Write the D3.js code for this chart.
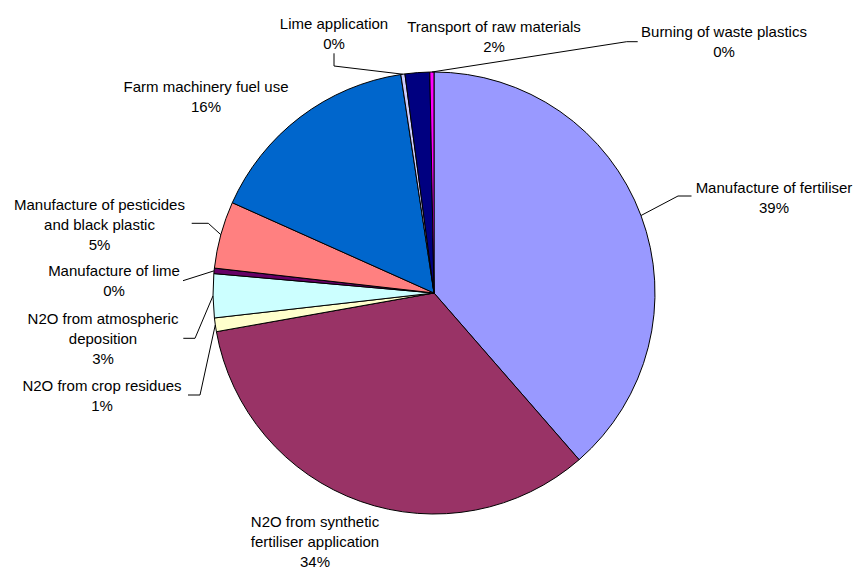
<!DOCTYPE html>
<html>
<head>
<meta charset="utf-8">
<script src="https://cdn.jsdelivr.net/npm/d3@7"></script>
<style>
  body { margin: 0; background: #fff; }
  text { font-family: "Liberation Sans", Arial, sans-serif; font-size: 15px; fill: #000; }
</style>
</head>
<body>
<svg id="chart" width="854" height="569"></svg>
<script>
// Sources of greenhouse gas emissions, share of total (%)
const categories = [
  "Manufacture of fertiliser",
  "N2O from synthetic fertiliser application",
  "N2O from crop residues",
  "N2O from atmospheric deposition",
  "Manufacture of lime",
  "Manufacture of pesticides and black plastic",
  "Farm machinery fuel use",
  "Lime application",
  "Transport of raw materials",
  "Burning of waste plastics"
];
const values = [38.6, 33.6, 1.0, 3.2, 0.4, 4.9, 15.9, 0.3, 1.8, 0.3];
const colors = ["#9999FF", "#993366", "#FFFFCC", "#CCFFFF", "#660066",
                "#FF8080", "#0066CC", "#CCCCFF", "#000080", "#FF00FF"];

// Category names broken into lines as they appear beside the pie
const labelLines = [
  ["Manufacture of fertiliser"],
  ["N2O from synthetic", "fertiliser application"],
  ["N2O from crop residues"],
  ["N2O from atmospheric", "deposition"],
  ["Manufacture of lime"],
  ["Manufacture of pesticides", "and black plastic"],
  ["Farm machinery fuel use"],
  ["Lime application"],
  ["Transport of raw materials"],
  ["Burning of waste plastics"]
];

// Label placement: text centre x, first baseline y, and leader-line bend points
const labelLayout = [
  { x: 774, y: 193,   leader: [[678, 196], [691.5, 196]] },
  { x: 315, y: 527,   leader: null },
  { x: 102, y: 391,   leader: [[200, 395], [188, 395]] },
  { x: 103, y: 323.5, leader: [[195, 338.3], [183.3, 338.3]] },
  { x: 114, y: 276,   leader: [[183, 280.7]] },
  { x: 99.5, y: 209.5, leader: [[208.3, 223.3], [191.7, 223.3]] },
  { x: 206, y: 92,    leader: null },
  { x: 334, y: 28.5,  leader: [[334, 66], [334, 53.3]] },
  { x: 494, y: 31.5,  leader: null },
  { x: 724, y: 37,    leader: [[626.7, 41.7], [637.7, 41.7]] }
];

const cx = 434, cy = 293, R = 221;
const lineGap = 20;

const svg = d3.select("#chart");
const total = d3.sum(values);
const pct = v => Math.round(v / total * 100) + "%";

const pie = d3.pie().sort(null).value(d => d).startAngle(0).endAngle(2 * Math.PI);
const arcs = pie(values);
const arc = d3.arc().innerRadius(0).outerRadius(R);
const rim = d3.arc().innerRadius(R).outerRadius(R);

const g = svg.append("g").attr("transform", `translate(${cx},${cy})`);

g.selectAll("path.slice")
  .data(arcs)
  .join("path")
  .attr("class", "slice")
  .attr("d", arc)
  .attr("fill", (d, i) => colors[i])
  .attr("stroke", "#000")
  .attr("stroke-width", 1)
  .attr("stroke-linejoin", "round");

// Leader lines from the slice's outer edge to its label
const line = d3.line();
arcs.forEach((a, i) => {
  const lay = labelLayout[i];
  if (!lay.leader) return;
  const [px, py] = rim.centroid(a);
  const pts = [[cx + px, cy + py]].concat(lay.leader);
  svg.append("path")
    .attr("d", line(pts))
    .attr("fill", "none")
    .attr("stroke", "#000")
    .attr("stroke-width", 1);
});

// Labels: category name plus its percentage
arcs.forEach((a, i) => {
  const lay = labelLayout[i];
  const lines = labelLines[i].concat([pct(values[i])]);
  const t = svg.append("text")
    .attr("text-anchor", "middle")
    .attr("x", lay.x)
    .attr("y", lay.y);
  lines.forEach((s, k) => {
    t.append("tspan")
      .attr("x", lay.x)
      .attr("y", lay.y + k * lineGap)
      .text(s);
  });
});
</script>
</body>
</html>
